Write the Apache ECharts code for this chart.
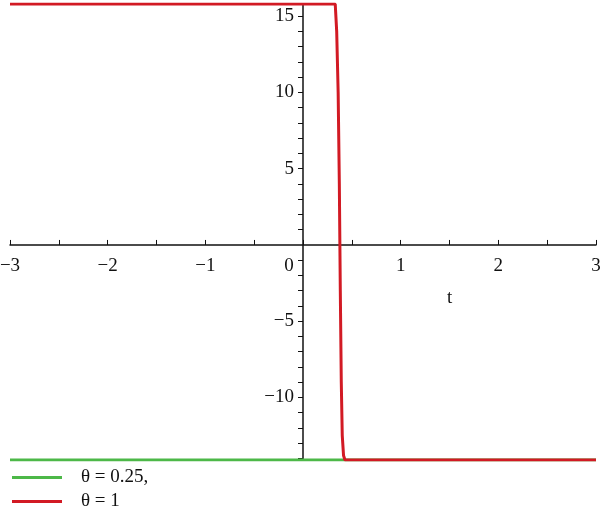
<!DOCTYPE html>
<html><head><meta charset="utf-8">
<script src="https://cdn.jsdelivr.net/npm/echarts@6/dist/echarts.min.js"></script>
<style>html,body{margin:0;padding:0;background:#fff}#c{width:600px;height:512px}</style>
</head><body><div id="c"></div>
<script>
const seriesNames = ['θ = 0.25,', 'θ = 1'];
const greenT = [-3, 0.42, 3];
const greenY = [-14.1, -14.1, -14.1];
const redT = [-3, 0.33, 0.345, 0.36, 0.372, 0.382, 0.392, 0.402, 0.415, 0.43, 3];
const redY = [15.8, 15.8, 14, 10, 4, -3, -9, -12.5, -13.8, -14.1, -14.1];
const xLabels = [-3, -2, -1, 0, 1, 2, 3];
const xTicks = [-3, -2.5, -2, -1.5, -1, -0.5, 0, 0.5, 1, 1.5, 2, 2.5, 3];
const yLabels = [-10, -5, 5, 10, 15];
const yTicks = [-14,-13,-12,-11,-10,-9,-8,-7,-6,-5,-4,-3,-2,-1,1,2,3,4,5,6,7,8,9,10,11,12,13,14,15];
const xRange = [-3, 3];
const yRange = [-14.1, 15.8];

const pair = (a, b) => a.map((v, i) => [v, b[i]]);
const font = 'Liberation Serif';
const G = { left: 10, right: 4, top: 4, bottom: 52 };
const W = 600, H = 512;
const gw = W - G.left - G.right, gh = H - G.top - G.bottom;
// place axes through the origin
const yAxisOffset = -gw * (0 - xRange[0]) / (xRange[1] - xRange[0]);
const xAxisOffset = -gh * (0 - yRange[0]) / (yRange[1] - yRange[0]);
const chart = echarts.init(document.getElementById('c'));
chart.setOption({
  animation: false,
  title: { text: 't', left: 447, top: 289, padding: 0, textStyle: { fontFamily: font, fontSize: 19, fontWeight: 'normal', color: '#111' } },
  grid: Object.assign({ containLabel: false, outerBoundsMode: 'none' }, G),
  legend: {
    orient: 'vertical', left: 12, top: 468, padding: 0, itemWidth: 50, itemHeight: 3, itemGap: 5,
    icon: 'rect',
    textStyle: { fontFamily: font, fontSize: 19, color: '#111', padding: [0, 0, 0, 14] },
    data: seriesNames
  },
  xAxis: {
    type: 'value', min: xRange[0], max: xRange[1], position: 'bottom', offset: xAxisOffset,
    axisLine: { onZero: false, lineStyle: { color: '#111', width: 1.5 } },
    axisTick: { inside: true, length: 5, customValues: xTicks, lineStyle: { color: '#111' } },
    axisLabel: {
      customValues: xLabels, margin: 12, fontFamily: font, fontSize: 19, color: '#111',
      formatter: v => v === 0 ? '{z|0}' : (v < 0 ? '\u2212' + (-v) : String(v)),
      rich: { z: { fontFamily: font, fontSize: 19, color: '#111', padding: [0, 28, 0, 0] } }
    },
    splitLine: { show: false }
  },
  yAxis: {
    type: 'value', min: yRange[0], max: yRange[1], position: 'left', offset: yAxisOffset,
    axisLine: { onZero: false, lineStyle: { color: '#111', width: 1.5 } },
    axisTick: { length: 5, customValues: yTicks, lineStyle: { color: '#111' } },
    axisLabel: {
      customValues: yLabels, margin: 9, fontFamily: font, fontSize: 19, color: '#111',
      formatter: v => v < 0 ? '\u2212' + (-v) : String(v)
    },
    splitLine: { show: false }
  },
  series: [
    { name: seriesNames[0], type: 'line', data: pair(greenT, greenY), showSymbol: false, symbol: 'none',
      lineStyle: { color: '#4db848', width: 3 }, itemStyle: { color: '#4db848' } },
    { name: seriesNames[1], type: 'line', data: pair(redT, redY), showSymbol: false, symbol: 'none',
      lineStyle: { color: '#d21a24', width: 3 }, itemStyle: { color: '#d21a24' } }
  ]
});
</script></body></html>
